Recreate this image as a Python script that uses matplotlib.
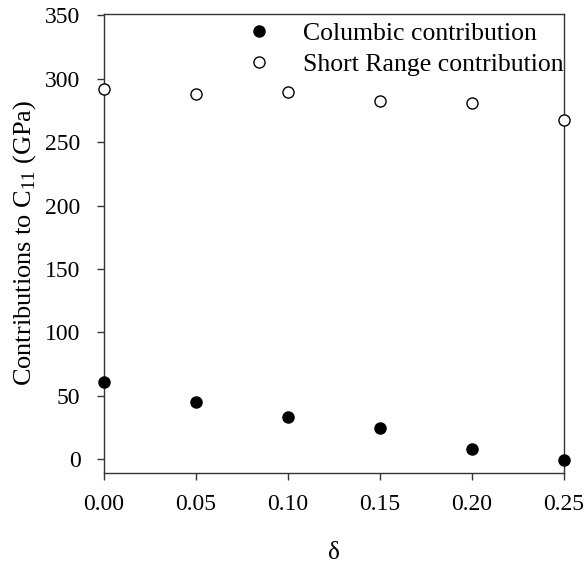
import matplotlib
matplotlib.use("Agg")
import matplotlib.pyplot as plt

delta = [0.00, 0.05, 0.10, 0.15, 0.20, 0.25]
columbic = [61.3, 45.0, 33.1, 24.5, 8.1, -0.5]
short_range = [292.0, 288.0, 289.6, 282.8, 281.0, 267.8]
xticks = [0.00, 0.05, 0.10, 0.15, 0.20, 0.25]
yticks = [0, 50, 100, 150, 200, 250, 300, 350]

plt.rcParams['font.family'] = ['Liberation Serif', 'DejaVu Serif']
plt.rcParams['mathtext.fontset'] = 'custom'
plt.rcParams['mathtext.rm'] = 'Liberation Serif'

fig = plt.figure(figsize=(5.87, 5.66), dpi=100)
W, H = 587, 566
ax = fig.add_axes([104 / W, 1 - 472.7 / H, (564 - 104) / W, (472.7 - 14) / H])

ax.plot(delta, columbic, 'o', color='black', markersize=8, clip_on=False,
        label='Columbic contribution', zorder=3)
ax.plot(delta, short_range, 'o', markerfacecolor='white', markeredgecolor='black',
        markeredgewidth=1.0, markersize=8, clip_on=False,
        label='Short Range contribution', zorder=3)

ax.set_xlim(0, 0.25)
ax.set_ylim(-10.5, 351)
ax.set_xticks(xticks)
ax.set_xticklabels([f"{t:.2f}" for t in xticks])
ax.set_yticks(yticks)
ax.tick_params(direction='out', length=5, width=1, labelsize=17, color='#333333')
ax.tick_params(axis='x', pad=10)
ax.tick_params(axis='y', pad=12)
for s in ax.spines.values():
    s.set_linewidth(1.0)
    s.set_color('#333333')

ax.set_xlabel('δ', fontsize=18, labelpad=20)
ax.set_ylabel('Contributions to C$_{\\mathrm{11}}$ (GPa)', fontsize=19, labelpad=5)

leg = ax.legend(loc='upper left', bbox_to_anchor=(0.309, 0.9825), frameon=False,
                fontsize=18.5, handlelength=1.0, handletextpad=1.2,
                labelspacing=0.32, borderaxespad=0.0, borderpad=0.0)

fig.savefig('out.png', dpi=100)
